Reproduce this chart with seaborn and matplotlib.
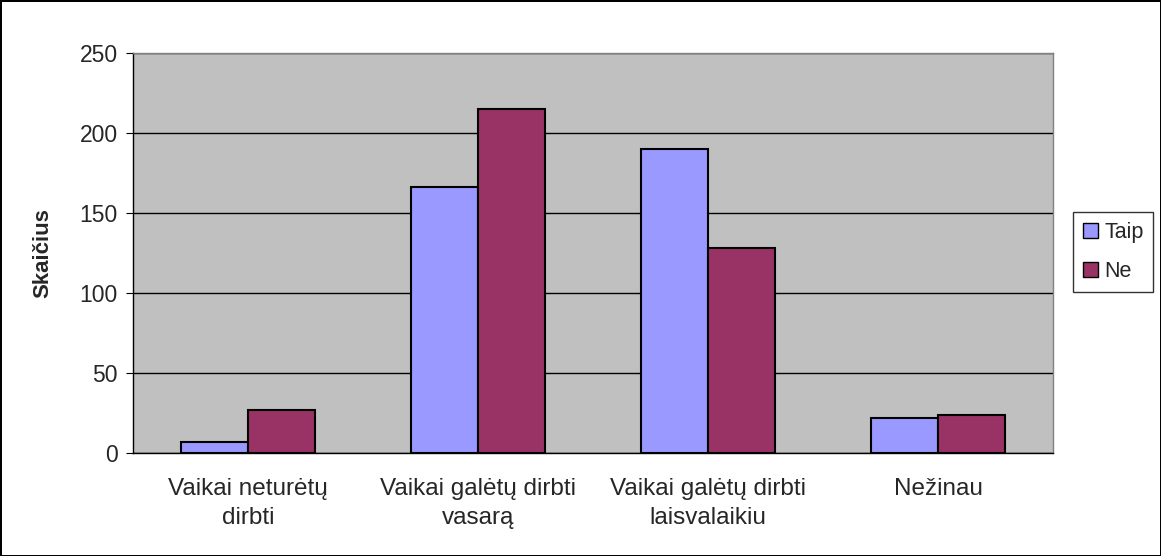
import pandas as pd
import numpy as np
import matplotlib.pyplot as plt
import seaborn as sns
from matplotlib.patches import Patch

categories = ['Vaikai neturėtų\ndirbti', 'Vaikai galėtų dirbti\nvasarą',
              'Vaikai galėtų dirbti\nlaisvalaikiu', 'Nežinau']
taip = [7, 166, 190, 22]
ne = [27, 215, 128, 24]
series = ['Taip', 'Ne']
colors = ['#9999FF', '#993366']

df = pd.DataFrame({'kategorija': categories * 2,
                   'atsakymas': ['Taip'] * 4 + ['Ne'] * 4,
                   'skaicius': taip + ne})

sns.set_style('white')
plt.rcParams['font.family'] = ['Liberation Sans', 'DejaVu Sans']

fig = plt.figure(figsize=(11.61, 5.56), dpi=100, edgecolor='black', linewidth=2)
ax = fig.add_axes([133 / 1161, 1 - 453 / 556, 920 / 1161, 400 / 556])
ax.set_facecolor('#C0C0C0')

sns.barplot(data=df, x='kategorija', y='skaicius', hue='atsakymas',
            hue_order=series, palette=colors, width=0.58, saturation=1,
            edgecolor='black', linewidth=1.5, ax=ax, legend=False, zorder=3)

ax.set_ylim(0, 250)
ax.set_xlim(-0.5, 3.5)
ax.set_yticks(range(0, 251, 50))
ax.yaxis.grid(True, color='black', linewidth=1, zorder=0)
ax.set_axisbelow(True)
ax.set_xticks(range(4))
ax.set_xticklabels(categories, fontsize=17.5, linespacing=1.42)
ax.tick_params(axis='x', length=0, pad=18)
ax.set_xticks([0.5, 1.5, 2.5], minor=True)
ax.tick_params(axis='x', which='minor', length=6, color='black', width=1, direction='out')
ax.tick_params(axis='y', labelsize=16.5, length=5, color='black', direction='out', left=True, pad=6)
ax.set_xlabel('')
ax.set_ylabel('Skaičius', fontsize=16, fontweight='bold')
ax.yaxis.set_label_coords(-0.087, 0.5)
for side in ['left', 'bottom']:
    ax.spines[side].set_color('black')
    ax.spines[side].set_linewidth(1)
for side in ['top', 'right']:
    ax.spines[side].set_color('#808080')
    ax.spines[side].set_linewidth(1)

handles = [Patch(facecolor=c, edgecolor='black', label=s) for c, s in zip(colors, series)]
leg = fig.legend(handles=handles, loc='center left', bbox_to_anchor=(1073 / 1161, 1 - 252 / 556),
                 fontsize=15.5, frameon=True, fancybox=False, handlelength=0.7, handleheight=0.7,
                 handletextpad=0.3, labelspacing=0.85, borderpad=0.45, borderaxespad=0)
leg.get_frame().set_edgecolor('black')
leg.get_frame().set_linewidth(1)

fig.savefig('out.png', dpi=100, edgecolor=fig.get_edgecolor())
